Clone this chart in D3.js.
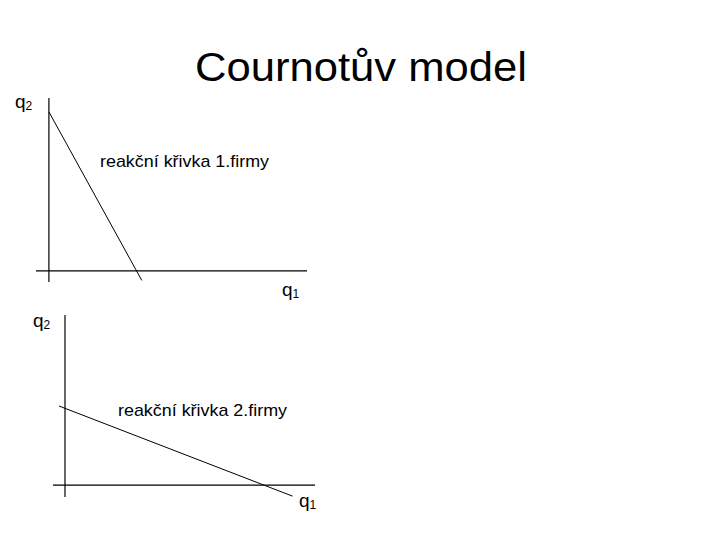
<!DOCTYPE html>
<html>
<head>
<meta charset="utf-8">
<script src="https://cdn.jsdelivr.net/npm/d3@7"></script>
<style>
  body { margin: 0; background: #fff; }
  text { font-family: "Liberation Sans", Arial, sans-serif; fill: #000; }
</style>
</head>
<body>
<svg id="chart" width="720" height="540"></svg>
<script>
// chart data
const title = 'Cournotův model';
const curveLabels = ['reakční křivka 1.firmy', 'reakční křivka 2.firmy'];
const axisLabels = ['q', 'q'];
// reaction curves, [q1, q2] in diagram units
const reaction1 = [[0, 9.2], [3.6, -0.55]];
const reaction2 = [[-0.24, 4.65], [9.1, -0.65]];

const svg = d3.select('#chart');

svg.append('text')
  .attr('x', 195)
  .attr('y', 81)
  .attr('font-size', 40)
  .attr('textLength', 332)
  .attr('lengthAdjust', 'spacingAndGlyphs')
  .text(title);

// panel layout (pixel boxes for each small diagram)
const panels = [
  { x: [36, 307], y: [282, 98], xd: [-0.5, 10], yd: [-0.64, 10], line: reaction1,
    label: curveLabels[0], labelPos: [100, 167], q2Pos: [15, 108], q1Pos: [282, 296] },
  { x: [53, 315], y: [497, 315], xd: [-0.48, 10], yd: [-0.7, 10], line: reaction2,
    label: curveLabels[1], labelPos: [118, 416], q2Pos: [33, 327], q1Pos: [299, 507] }
];

panels.forEach(p => {
  const x = d3.scaleLinear().domain(p.xd).range(p.x);
  const y = d3.scaleLinear().domain(p.yd).range(p.y);
  const g = svg.append('g');

  // axes
  g.append('line')
    .attr('x1', x(p.xd[0])).attr('x2', x(p.xd[1]))
    .attr('y1', y(0)).attr('y2', y(0))
    .attr('stroke', '#000').attr('stroke-width', 1.2);
  g.append('line')
    .attr('x1', x(0)).attr('x2', x(0))
    .attr('y1', y(p.yd[0])).attr('y2', y(p.yd[1]))
    .attr('stroke', '#000').attr('stroke-width', 1.2);

  // reaction curve
  g.append('path')
    .datum(p.line)
    .attr('fill', 'none')
    .attr('stroke', '#000')
    .attr('stroke-width', 1)
    .attr('d', d3.line().x(d => x(d[0])).y(d => y(d[1])));

  g.append('text')
    .attr('x', p.labelPos[0]).attr('y', p.labelPos[1])
    .attr('font-size', 17)
    .attr('textLength', 169)
    .attr('lengthAdjust', 'spacingAndGlyphs')
    .text(p.label);

  // axis names with subscripts
  const q2 = g.append('text')
    .attr('x', p.q2Pos[0]).attr('y', p.q2Pos[1])
    .attr('font-size', 19);
  q2.append('tspan').text(axisLabels[1]);
  q2.append('tspan').attr('font-size', 12).attr('dy', 2).text('2');

  const q1 = g.append('text')
    .attr('x', p.q1Pos[0]).attr('y', p.q1Pos[1])
    .attr('font-size', 19);
  q1.append('tspan').text(axisLabels[0]);
  q1.append('tspan').attr('font-size', 12).attr('dy', 2).text('1');
});
</script>
</body>
</html>
